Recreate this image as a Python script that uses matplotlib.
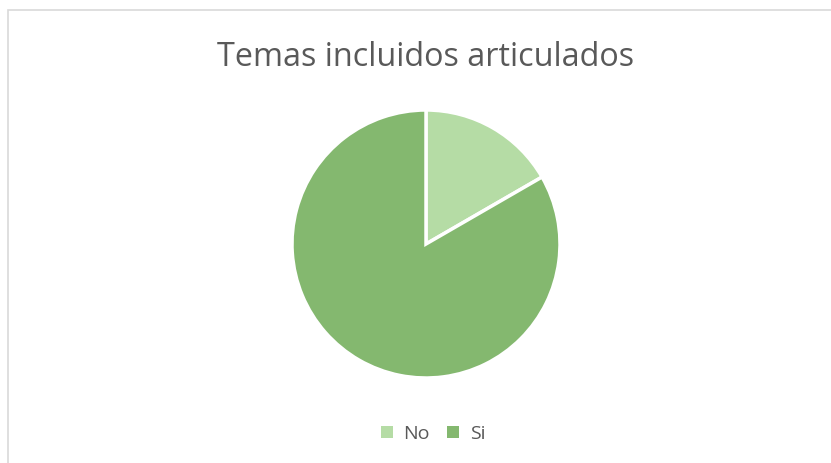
import matplotlib.pyplot as plt
from matplotlib.patches import Rectangle, Patch

labels = ["No", "Si"]
values = [1, 5]
colors = ["#B5DCA5", "#84B86F"]
title = "Temas incluidos articulados"

W, H = 831, 463
fig = plt.figure(figsize=(W / 100, H / 100), dpi=100)
plt.rcParams["font.family"] = ["Open Sans", "DejaVu Sans"]

# chart frame, cut off at right and bottom like the source
fig.patches.append(
    Rectangle((8 / W, -0.05), 1.1, (H - 10) / H + 0.05, transform=fig.transFigure,
              fill=False, edgecolor="#D9D9D9", linewidth=1.2)
)

cx, cy, r = 426, 244, 134
ax = fig.add_axes([(cx - r) / W, (H - cy - r) / H, 2 * r / W, 2 * r / H])
ax.pie(values, colors=colors, startangle=90, counterclock=False,
       wedgeprops=dict(edgecolor="white", linewidth=2.5))
ax.set_xlim(-1, 1)
ax.set_ylim(-1, 1)
ax.set_aspect("equal")

fig.text(426 / W, 1 - 57 / H, title, ha="center", va="center",
         fontsize=23.3, color="#595959")

handles = [Patch(facecolor=c, label=l) for c, l in zip(colors, labels)]
fig.legend(handles=handles, loc="center", bbox_to_anchor=(433 / W, 1 - 434 / H),
           ncols=2, frameon=False, fontsize=14, handlelength=0.6, handleheight=0.6,
           handletextpad=0.55, columnspacing=0.9, labelcolor="#595959")

fig.savefig("out.png", dpi=100)
